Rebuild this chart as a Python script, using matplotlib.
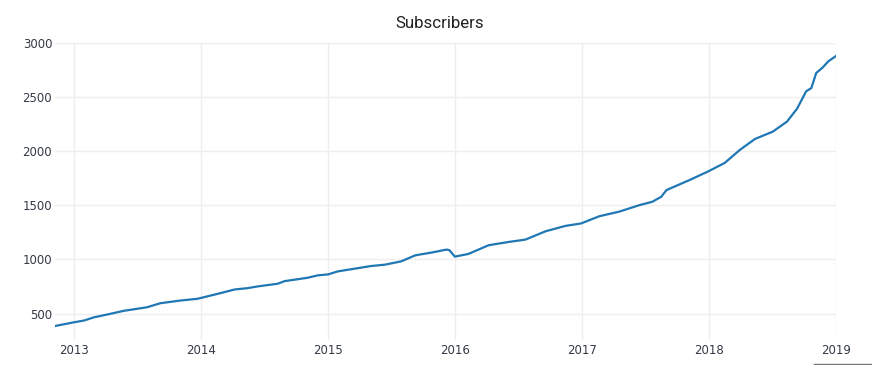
import matplotlib
matplotlib.use("Agg")
import matplotlib.pyplot as plt
from matplotlib.lines import Line2D
import pandas as pd

dates = ["2012-11-06", "2013-01-01", "2013-01-28", "2013-02-26", "2013-04-04", "2013-05-23",
         "2013-07-29", "2013-09-05", "2013-11-02", "2013-12-21", "2014-02-25", "2014-04-07",
         "2014-05-14", "2014-06-12", "2014-08-09", "2014-08-29", "2014-11-03", "2014-12-02",
         "2015-01-01", "2015-01-29", "2015-03-19", "2015-05-04", "2015-06-14", "2015-07-30",
         "2015-09-09", "2015-10-25", "2015-12-08", "2015-12-16", "2016-01-01", "2016-02-09",
         "2016-04-07", "2016-06-03", "2016-07-22", "2016-09-18", "2016-11-15", "2016-12-29",
         "2017-02-20", "2017-04-18", "2017-06-15", "2017-07-22", "2017-08-17", "2017-09-01",
         "2017-11-06", "2017-12-28", "2018-02-16", "2018-03-31", "2018-05-14", "2018-07-04",
         "2018-08-14", "2018-09-12", "2018-10-08", "2018-10-23", "2018-11-06", "2018-11-24",
         "2018-12-11", "2019-01-02"]
subscribers = [385, 420, 435, 465, 490, 525,
               558, 595, 620, 636, 688, 722,
               734, 750, 775, 799, 830, 852,
               861, 889, 914, 938, 951, 981,
               1037, 1062, 1090, 1085, 1025, 1050,
               1130, 1160, 1182, 1259, 1309, 1331,
               1398, 1440, 1500, 1531, 1577, 1639,
               1731, 1808, 1890, 2009, 2111, 2178,
               2271, 2390, 2550, 2580, 2719, 2768,
               2827, 2876]
x_ticks = ["2013", "2014", "2015", "2016", "2017", "2018", "2019"]
y_ticks = [500, 1000, 1500, 2000, 2500, 3000]
title = "Subscribers"

plt.rcParams['font.family'] = ['DejaVu Sans']

W, H = 872, 365
fig = plt.figure(figsize=(W / 100, H / 100), dpi=100)
ax = fig.add_axes([55 / W, 25.5 / H, (836 - 55) / W, (340 - 43) / H])

d = pd.to_datetime(dates)
ax.plot(d, subscribers, color="#1f77b4", lw=1.6, solid_joinstyle="round")

ax.set_xlim(d[0], d[-1])
lo, hi = min(subscribers), max(subscribers)
pad = (hi - lo) * 0.05
ax.set_ylim(lo - pad, hi + pad)

ax.set_xticks(pd.to_datetime([t + "-01-01" for t in x_ticks]))
ax.set_xticklabels(x_ticks)
ax.set_yticks(y_ticks)
ax.set_yticklabels([str(v) for v in y_ticks])
ax.tick_params(length=0, labelsize=8.5, colors="#333a44")
ax.tick_params(axis="y", pad=2)
ax.tick_params(axis="x", pad=3)
ax.grid(True, color="#eeeeee", lw=1)
ax.set_axisbelow(True)
for s in ax.spines.values():
    s.set_visible(False)

fig.text(440 / W, 1 - 24 / H, title, ha="center", va="center", fontsize=12.2,
         color="#222222", family=["Roboto", "DejaVu Sans"])
fig.add_artist(Line2D([814 / W, 1.0], [1 - 364 / H, 1 - 364 / H], color="#777777", lw=1,
                      transform=fig.transFigure))

fig.savefig("out.png", dpi=100, facecolor="white")
